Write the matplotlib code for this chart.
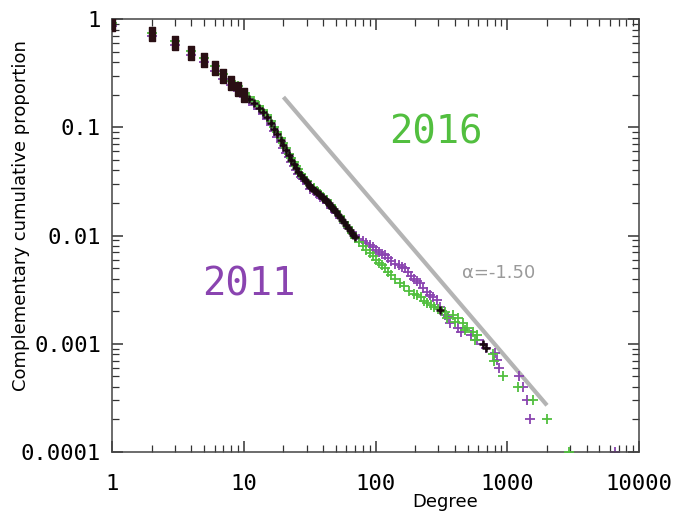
import numpy as np
import matplotlib
matplotlib.use("Agg")
import matplotlib.pyplot as plt

# degree / complementary cumulative proportion
deg_2011 = [1, 2, 3, 4, 5, 6, 7, 8, 9, 10,
            11, 12, 13, 14, 15, 16, 17, 18, 19, 20, 21, 22, 23, 24, 25, 26, 27, 28,
            30, 32, 34, 36, 38, 40, 43, 46, 50, 54, 58, 62, 66, 70,
            75, 80, 85, 90, 95, 100, 106, 112, 118, 125, 132, 140, 150, 160, 167,
            175, 185, 195, 205, 218, 230, 245, 260, 275, 293, 310, 320, 336, 355,
            368, 423, 446, 531, 589, 655, 690, 807, 836, 865, 1227, 1318, 1413,
            1490, 6600]
ccdf_2011 = [0.87, 0.69, 0.57, 0.465, 0.397, 0.333, 0.282, 0.244, 0.216, 0.189,
             0.175, 0.160, 0.146, 0.132, 0.119, 0.105, 0.093, 0.082, 0.073, 0.065,
             0.058, 0.053, 0.048, 0.044, 0.040, 0.037, 0.035, 0.033,
             0.030, 0.027, 0.0256, 0.0242, 0.0228, 0.0216, 0.0200, 0.0181, 0.0162,
             0.0146, 0.0131, 0.0118, 0.0107, 0.0098,
             0.0093, 0.0089, 0.0086, 0.0082, 0.0078, 0.0074, 0.0071, 0.0068, 0.0066,
             0.0062, 0.0058, 0.0055, 0.0053, 0.0051, 0.0050,
             0.0046, 0.0042, 0.0040, 0.0038, 0.00365, 0.0033, 0.0030, 0.0028, 0.0027,
             0.00254, 0.0022, 0.0020, 0.00185, 0.00177,
             0.00156, 0.0014, 0.00129, 0.00121, 0.00109, 0.00099, 0.00092, 0.00082,
             0.00071, 0.0006, 0.0005, 0.0004, 0.0003,
             0.0002, 0.0001]

deg_2016 = [1, 2, 3, 4, 5, 6, 7, 8, 9, 10,
            11, 12, 13, 14, 15, 16, 17, 18, 19, 20, 21, 22, 23, 24, 25, 26, 27, 28,
            30, 32, 34, 36, 38, 40, 43, 46, 50, 54, 58, 62, 66, 70,
            75, 80, 85, 90, 95, 100, 106, 112, 118, 125, 132, 140, 153, 165, 180,
            195, 206, 220, 233, 246, 262, 280, 300, 320, 336, 349, 387, 401, 423,
            462, 478, 495, 550, 569, 589, 780, 794, 929, 1208, 1570, 2005, 2960]
ccdf_2016 = [0.92, 0.74, 0.62, 0.51, 0.435, 0.366, 0.312, 0.27, 0.239, 0.209,
             0.191, 0.174, 0.158, 0.144, 0.129, 0.115, 0.101, 0.090, 0.079, 0.071,
             0.064, 0.057, 0.052, 0.048, 0.044, 0.041, 0.037, 0.035,
             0.032, 0.029, 0.0274, 0.026, 0.0243, 0.0229, 0.0211, 0.0190, 0.0169,
             0.0151, 0.0134, 0.0119, 0.0106, 0.0095,
             0.0088, 0.0080, 0.0074, 0.0069, 0.0064, 0.0060, 0.0056, 0.0053, 0.0050,
             0.0046, 0.0043, 0.0040, 0.00365, 0.0034, 0.0031,
             0.0029, 0.00283, 0.0027, 0.0025, 0.00239, 0.0023, 0.0022, 0.0021, 0.0020,
             0.00197, 0.00173, 0.00185, 0.00159, 0.00173,
             0.00156, 0.00134, 0.0014, 0.00129, 0.00109, 0.00121, 0.0008, 0.0007,
             0.0005, 0.0004, 0.0003, 0.0002, 0.0001]

# points where both years coincide (drawn black)
deg_both = [11, 12, 13, 14, 15, 16, 17, 18, 19, 20, 21, 22, 23, 24, 25, 26, 27,
            28, 29, 30, 31, 32, 33, 34, 35, 36, 37, 38, 39, 40, 41, 42, 43, 44, 45,
            46, 47, 48, 49, 50, 52, 54, 56, 58, 60, 62, 64, 66, 68, 70,
            310, 655, 690]
ccdf_both = [0.183, 0.167, 0.152, 0.138, 0.124, 0.110, 0.097, 0.086, 0.076, 0.068,
             0.061, 0.055, 0.050, 0.046, 0.042, 0.039, 0.036,
             0.034, 0.0325, 0.031, 0.0295, 0.028, 0.0272, 0.0265, 0.0257, 0.025,
             0.0242, 0.0235, 0.0228, 0.0222, 0.0216, 0.0210, 0.0205, 0.0198, 0.0191,
             0.0185, 0.0180, 0.0175, 0.0170, 0.0165, 0.0156, 0.0148, 0.0140, 0.0132,
             0.0125, 0.0118, 0.0112, 0.0106, 0.0101, 0.0097,
             0.00206, 0.00099, 0.00092]
deg_low = [1, 2, 3, 4, 5, 6, 7, 8, 9, 10]
ccdf_low = [0.90, 0.72, 0.596, 0.488, 0.417, 0.35, 0.297, 0.257, 0.228, 0.199]

# reference power law line
fit_x = [20, 2000]
fit_y = [0.19, 0.00027]

purple = "#8a44b0"
green = "#52bf3f"

fig = plt.figure(figsize=(6.77, 5.18), dpi=100)
ax = fig.add_axes([0.1655, 0.1274, 0.7785, 0.8359])

ax.plot(fit_x, fit_y, color="#b4b4b4", lw=3, solid_capstyle="butt", zorder=1)

ax.plot(deg_2011, ccdf_2011, ls="none", marker="+", ms=6.5, mew=1.3, color=purple, zorder=2)
ax.plot(deg_2016, ccdf_2016, ls="none", marker="+", ms=6.5, mew=1.3, color=green, zorder=3)
ax.plot(deg_both, ccdf_both, ls="none", marker="+", ms=5.5, mew=1.8, color="#1a0a10", zorder=4)
box = [(-0.45, -1), (0.45, -1), (0.45, 1), (-0.45, 1), (-0.45, -1)]
ax.plot(deg_low, ccdf_low, ls="none", marker=box, ms=10, color="#2a0f14", zorder=5)

ax.set_xscale("log")
ax.set_yscale("log")
ax.set_xlim(1, 10000)
ax.set_ylim(0.0001, 1)

ax.set_xticks([1, 10, 100, 1000, 10000])
ax.set_xticklabels(["1", "10", "100", "1000", "10000"])
ax.set_yticks([0.0001, 0.001, 0.01, 0.1, 1])
ax.set_yticklabels(["0.0001", "0.001", "0.01", "0.1", "1"])

ax.tick_params(which="both", direction="in", top=True, right=True, color="#333333")
ax.tick_params(which="major", length=8, width=1.1)
ax.tick_params(which="minor", length=5, width=0.9)
ax.tick_params(axis="x", which="major", pad=16)
ax.tick_params(axis="y", which="major", pad=8)
for lab in ax.get_xticklabels() + ax.get_yticklabels():
    lab.set_family("DejaVu Sans Mono")
    lab.set_fontsize(16)
for s in ax.spines.values():
    s.set_color("#444444")
    s.set_linewidth(1.1)

ax.set_xlabel("Degree", fontsize=13, labelpad=2)
ax.xaxis.set_label_coords(0.632, -0.095)
ax.set_ylabel("Complementary cumulative proportion", fontsize=13)
ax.yaxis.set_label_coords(-0.155, 0.547)

ax.text(288, 0.0886, "2016", color=green, fontsize=28, family="DejaVu Sans Mono",
        ha="center", va="center")
ax.text(10.9, 0.0035, "2011", color=purple, fontsize=28, family="DejaVu Sans Mono",
        ha="center", va="center")
ax.text(453, 0.00452, "α=-1.50", color="#9a9a9a", fontsize=13, ha="left", va="center")

fig.savefig("out.png", dpi=100)
